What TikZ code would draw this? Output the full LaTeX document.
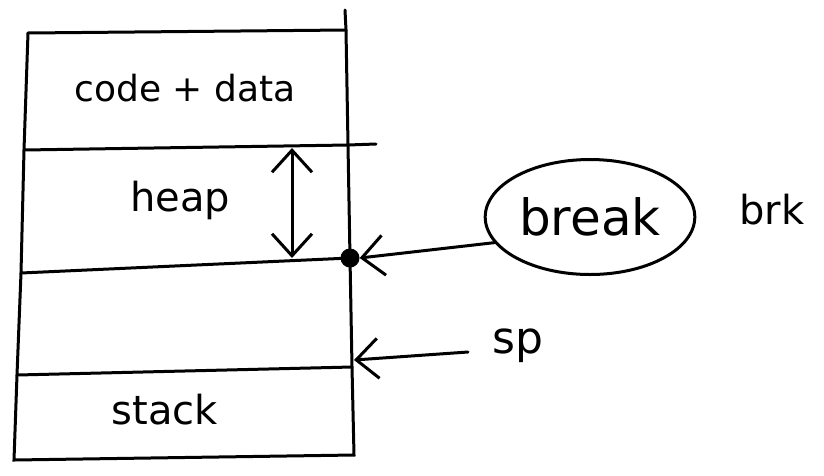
\documentclass[tikz,border=0pt]{standalone}
\usepackage{fontspec}
\setmainfont{DejaVu Sans}
\usetikzlibrary{arrows.meta,shapes.geometric}
\begin{document}
\begin{tikzpicture}[x=1pt,y=-1pt,
  pen/.style={line width=3pt,black,line cap=round},
  lbl/.style={font=\fontsize{36}{42}\selectfont},
  barb/.tip={Straight Barb[length=22pt,width=40pt,line width=3pt]},
  tip/.style={-barb}]
\useasboundingbox (0,0) rectangle (824,475);
% corners of the memory column
\coordinate (tl) at (28,33);
\coordinate (tr) at (346,30);
\coordinate (l1) at (24,150);
\coordinate (r1) at (348,145);
\coordinate (l2) at (21,273);
\coordinate (r2) at (350,258);
\coordinate (l3) at (17,375);
\coordinate (r3) at (352,367);
\coordinate (bl) at (14,460);
\coordinate (br) at (354,455);
\coordinate (rtop) at (345,10);
\draw[pen] (tl) -- (l1) -- (l2) -- (l3) -- (bl) -- (br) -- (r3) -- (r2) -- (r1) -- (tr) -- (rtop);
\draw[pen] (tl) -- (tr);
\draw[pen] (l1) -- (r1) -- (376,144);
\draw[pen] (l2) -- (r2);
\draw[pen] (l3) -- (r3);
% labels in the column
\node[lbl] (code) at (185,88) {code + data};
\node[lbl,font=\fontsize{40}{46}\selectfont] (heap) at (180,200) {heap};
\node[lbl,font=\fontsize{40}{46}\selectfont] (stack) at (165,410) {stack};
% heap growth arrow
\coordinate (ha) at (292,148);
\coordinate (hb) at (292,258);
\draw[pen,barb-barb] (ha) -- (hb);
% break point
\node[circle,fill=black,minimum size=19pt,inner sep=0pt] (dot) at (r2) {};
\node[draw,ellipse,line width=3pt,minimum width=200pt,minimum height=115pt,font=\fontsize{50}{56}\selectfont] (brk) at (590,217) {break};
\node[lbl,font=\fontsize{40}{46}\selectfont] (brkt) at (772,210) {brk};
\draw[pen,tip] (brk.195) -- (dot.east);
% stack pointer
\node[font=\fontsize{44}{50}\selectfont] (sp) at (518,346) {sp};
\coordinate (spend) at (468,352);
\coordinate (sptip) at (354,360);
\draw[pen,tip] (spend) -- (sptip);
\end{tikzpicture}
\end{document}
